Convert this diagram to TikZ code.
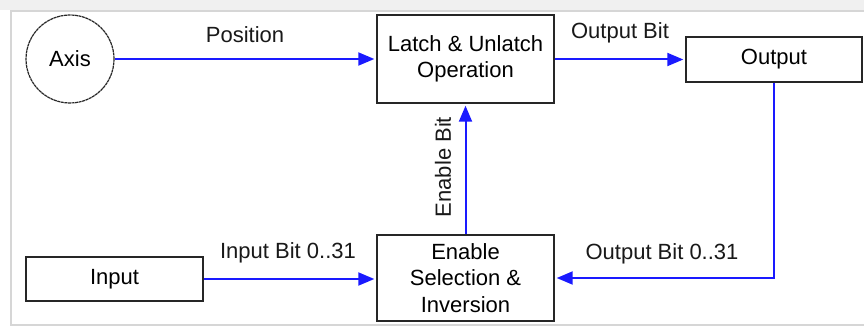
\documentclass[tikz,border=0pt]{standalone}
\usepackage{fontspec}
\setmainfont{Liberation Sans}
\usetikzlibrary{arrows.meta}
\definecolor{framegray}{HTML}{D6D6D6}
\definecolor{flowblue}{HTML}{1A1AFF}
\tikzset{
  blk/.style={draw=black!85, line width=1.4pt, rectangle, inner sep=0pt, align=center,
    font=\fontsize{22}{26.5}\selectfont},
  circ/.style={draw=black!85, line width=1.2pt, circle, inner sep=0pt, dash pattern=on 3pt off 0.6pt,
    font=\fontsize{22}{26}\selectfont},
  flow/.style={draw=flowblue, line width=2pt, -{Triangle[length=16pt,width=13pt]}, shorten >=2pt},
  lbl/.style={font=\fontsize{22}{26}\selectfont, inner sep=0pt, text=black!90}
}
\begin{document}
\begin{tikzpicture}[x=1pt,y=-1pt]
\useasboundingbox (0,0) rectangle (864,326);
\fill[white] (0,0) rectangle (864,326);
\fill[black!6] (0,0) rectangle (864,10);
\draw[framegray, line width=1.5pt] (864,11) -- (11,11) -- (11,325) -- (864,325);
\node[circ, minimum size=88pt] (axis) at (70,59) {Axis};
\node[blk, minimum width=177pt, minimum height=88pt] (latch) at (465.5,59) {Latch \& Unlatch\\Operation};
\node[blk, minimum width=176pt, minimum height=45pt] (output) at (774,59.5) {Output};
\node[blk, minimum width=177pt, minimum height=86pt] (enable) at (465.5,278) {Enable\\Selection \&\\Inversion};
\node[blk, minimum width=177pt, minimum height=44pt] (input) at (114.5,279) {Input};
\draw[flow] (axis.east) -- (axis.east -| latch.west);
\draw[flow] (latch.east |- output.west) -- (output.west);
\draw[flow] (output.south) |- (enable.east);
\draw[flow] (enable.north) -- (latch.south);
\draw[flow] (input.east) -- (input.east -| enable.west);
\node[lbl] (lpos) at (245,35) {Position};
\node[lbl] (lob) at (620,33) {Output Bit};
\node[lbl] (lob31) at (662,254) {Output Bit 0..31};
\node[lbl] (lib31) at (288,253) {Input Bit 0..31};
\node[lbl, rotate=90] (leb) at (443,167) {Enable Bit};
\end{tikzpicture}
\end{document}
